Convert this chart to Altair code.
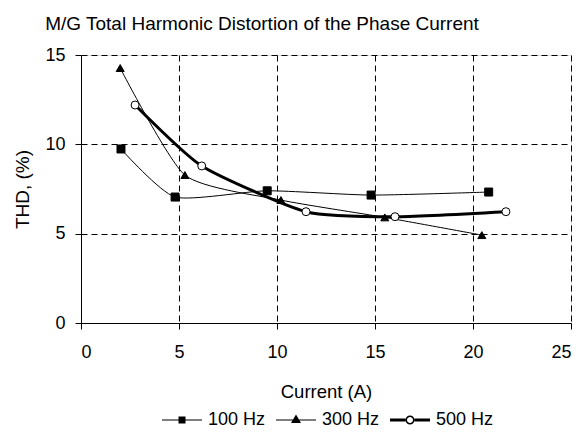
import altair as alt
import pandas as pd

series_names = ["100 Hz", "300 Hz", "500 Hz"]
x100 = [2.04, 4.8, 9.5, 14.8, 20.8]
y100 = [9.74, 7.05, 7.4, 7.16, 7.33]
x300 = [2.0, 5.3, 10.2, 15.5, 20.45]
y300 = [14.27, 8.28, 6.88, 5.91, 4.92]
x500 = [2.76, 6.16, 11.48, 16.02, 21.68]
y500 = [12.2, 8.79, 6.23, 5.95, 6.23]
line_widths = [1, 1, 3]

rows = []
for name, xs, ys in zip(series_names, [x100, x300, x500], [y100, y300, y500]):
    for i, (a, b) in enumerate(zip(xs, ys)):
        rows.append({"series": name, "current": a, "thd": b, "order": i})
df = pd.DataFrame(rows)

FONT = "Liberation Sans"

x_enc = alt.X("current:Q", scale=alt.Scale(domain=[0, 25], nice=False),
              axis=alt.Axis(title="Current (A)", values=[0, 5, 10, 15, 20, 25],
                            grid=True, gridDash=[6, 4], gridColor="black", gridWidth=1,
                            domainColor="black", tickColor="black", tickSize=6,
                            labelPadding=14, titlePadding=21, labelFontSize=18,
                            titleFontSize=18.5, titleFontWeight="normal",
                            labelColor="black", titleColor="black"))
y_enc = alt.Y("thd:Q", scale=alt.Scale(domain=[0, 15], nice=False),
              axis=alt.Axis(title="THD, (%)", values=[0, 5, 10, 15],
                            grid=True, gridDash=[6, 4], gridColor="black", gridWidth=1,
                            domainColor="black", tickColor="black", tickSize=6,
                            labelPadding=10, labelFontSize=18, titleFontSize=19,
                            titleFontWeight="normal", titleX=-59, titleY=134,
                            titleAngle=-90, titleAlign="center", titleBaseline="middle",
                            labelColor="black", titleColor="black"))

line_layers = []
for name, w in zip(series_names, line_widths):
    line_layers.append(
        alt.Chart(df).transform_filter(alt.datum.series == name)
        .mark_line(interpolate="cardinal", tension=0.4, color="black", strokeWidth=w)
        .encode(x=x_enc, y=y_enc, order="order:Q")
    )

points = alt.Chart(df).mark_point(filled=True, stroke="black", strokeWidth=1, opacity=1, size=64).encode(
    x="current:Q", y="thd:Q",
    shape=alt.Shape("series:N", scale=alt.Scale(domain=series_names, range=["square", "triangle-up", "circle"]), legend=None),
    fill=alt.Fill("series:N", scale=alt.Scale(domain=series_names, range=["black", "black", "white"]), legend=None),
)

legend_paths = [
    "M-4,-0.1H4V0.1H-4Z M-0.7,-0.7H0.7V0.7H-0.7Z",
    "M-4,-0.1H4V0.1H-4Z M0,-1.1L1,0.6H-1Z",
    "M-4,-0.3H-0.9V0.3H-4Z M0.9,-0.3H4V0.3H0.9Z M0.9,0A0.9,0.9,0,1,0,-0.9,0A0.9,0.9,0,1,0,0.9,0Z M0.6,0A0.6,0.6,0,1,1,-0.6,0A0.6,0.6,0,1,1,0.6,0Z",
]

legend_layer = alt.Chart(df).mark_point(filled=True, color="black", opacity=0).encode(
    x="current:Q", y="thd:Q",
    shape=alt.Shape("series:N", scale=alt.Scale(domain=series_names, range=legend_paths),
                    legend=alt.Legend(title=None, orient="none", legendX=92, legendY=356,
                                      direction="horizontal", symbolSize=100,
                                      symbolStrokeWidth=0, symbolFillColor="black",
                                      symbolOpacity=1,
                                      labelOffset=17, columnPadding=10,
                                      labelFontSize=18, labelColor="black", labelFont=FONT)),
)

chart = alt.layer(*line_layers, points, legend_layer).resolve_scale(shape="independent").properties(
    width=490, height=268,
    padding={"left": 73, "top": 47, "right": 3, "bottom": 109},
    autosize="none",
    title=alt.TitleParams("M/G Total Harmonic Distortion of the Phase Current",
                          fontSize=19, fontWeight="normal", font=FONT, color="black",
                          anchor="middle", dx=-64, offset=12),
).configure_view(stroke=None).configure(font=FONT).configure_axis(labelFont=FONT, titleFont=FONT)

chart.save("out.html", embed_options={"renderer": "svg", "actions": False})
